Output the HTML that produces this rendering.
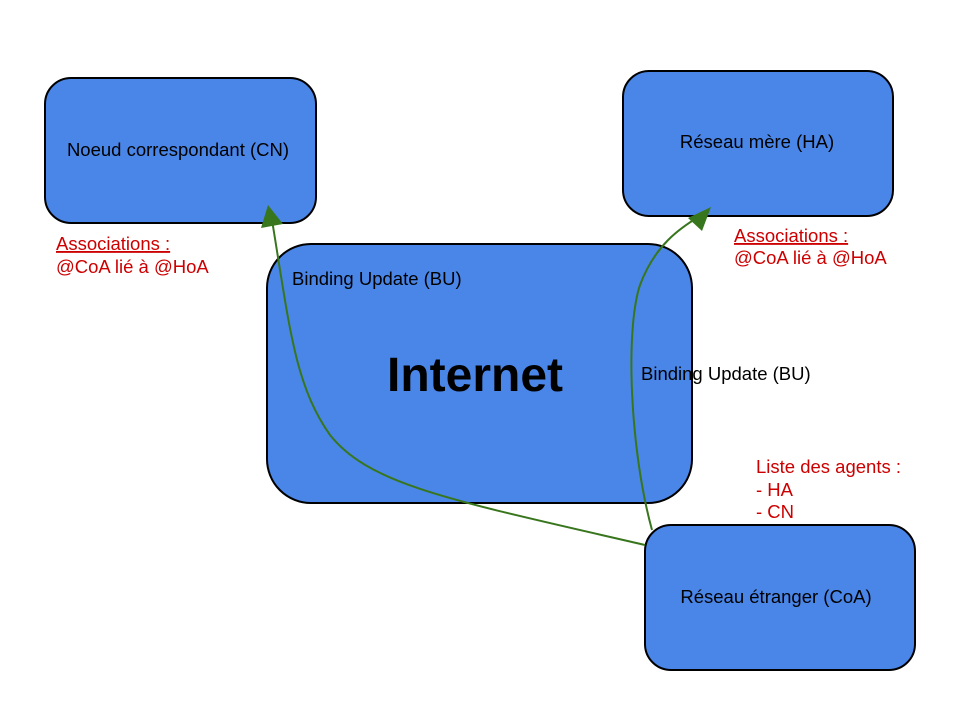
<!DOCTYPE html>
<html><head><meta charset="utf-8"><style>
body{margin:0;background:#fff}
svg text{font-family:"Liberation Sans",sans-serif}
</style></head><body>
<svg width="960" height="720" xmlns="http://www.w3.org/2000/svg">
<rect x="0" y="0" width="960" height="720" fill="#fff"/>
<g fill="#4a86e8" stroke="#000" stroke-width="2">
<rect x="45" y="78" width="271" height="145" rx="26"/>
<rect x="623" y="71" width="270" height="145" rx="26"/>
<rect x="267" y="244" width="425" height="259" rx="44"/>
<rect x="645" y="525" width="270" height="145" rx="26"/>
</g>
<g font-size="18.5" fill="#000" text-anchor="middle">
<text x="178" y="156">Noeud correspondant (CN)</text>
<text x="757" y="148">Réseau mère (HA)</text>
<text x="776" y="603">Réseau étranger (CoA)</text>
</g>
<text x="475" y="391" font-size="48" font-weight="bold" text-anchor="middle">Internet</text>
<g font-size="18.5" fill="#000">
<text x="292" y="285">Binding Update (BU)</text>
<text x="641" y="380">Binding Update (BU)</text>
</g>
<g font-size="18.5" fill="#cc0000">
<text x="56" y="250" text-decoration="underline">Associations :</text>
<text x="56" y="273">@CoA lié à @HoA</text>
<text x="734" y="242" text-decoration="underline">Associations :</text>
<text x="734" y="264">@CoA lié à @HoA</text>
<text x="756" y="473">Liste des agents :</text>
<text x="756" y="496">- HA</text>
<text x="756" y="518">- CN</text>
</g>
<g fill="none" stroke="#38761d" stroke-width="2">
<path d="M645,545 C450,500 370,485 330,435 C295,385 290,330 272,220"/>
<path d="M652,530 C630,450 625,330 640,285 C655,245 680,228 700,216"/>
</g>
<g fill="#38761d">
<polygon points="268,205 261,228 283,224"/>
<polygon points="711,207 688,218 702,231"/>
</g>
</svg>
</body></html>
